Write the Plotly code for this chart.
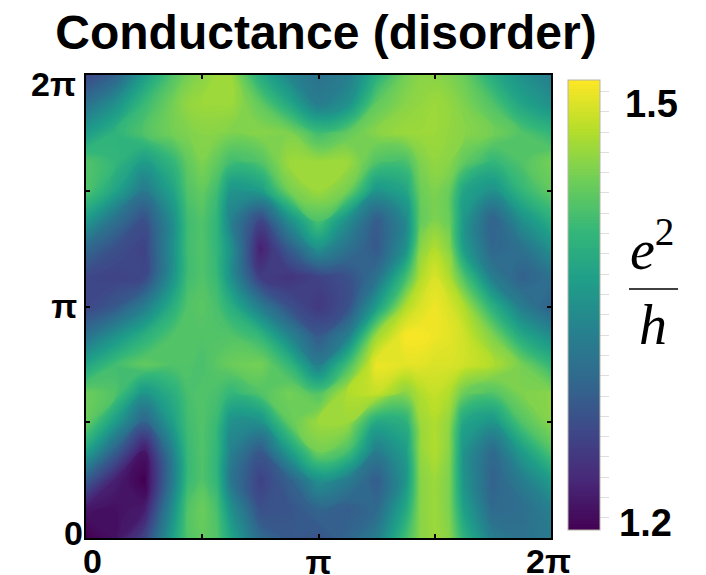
import math
import plotly.graph_objects as go

title = "Conductance (disorder)"
# column and row positions, in 32nds of the full 2pi range
col_32nds = [0, 2, 4, 6, 7, 8, 9, 10, 12, 14, 16, 18, 20, 22, 23, 24, 25, 26, 28, 30, 32]
row_32nds = [32, 30, 28, 26, 24, 22, 20, 18, 16, 14, 12, 10, 8, 6, 4, 2, 0]
# conductance, rows listed from top (y = 2pi) to bottom (y = 0)
rows_top_down = [
 [1.26,1.29,1.365,1.42,1.44,1.45,1.46,1.46,1.385,1.335,1.31,1.325,1.39,1.44,1.45,1.45,1.445,1.435,1.385,1.35,1.325],
 [1.31,1.35,1.405,1.44,1.455,1.46,1.46,1.46,1.43,1.38,1.325,1.35,1.43,1.45,1.455,1.46,1.455,1.445,1.42,1.375,1.35],
 [1.365,1.395,1.42,1.44,1.445,1.45,1.45,1.445,1.45,1.445,1.41,1.43,1.45,1.46,1.46,1.46,1.455,1.45,1.44,1.42,1.40],
 [1.42,1.40,1.365,1.40,1.43,1.445,1.43,1.41,1.42,1.46,1.46,1.46,1.42,1.415,1.445,1.455,1.45,1.43,1.40,1.42,1.44],
 [1.42,1.375,1.32,1.375,1.42,1.43,1.41,1.355,1.365,1.44,1.46,1.44,1.355,1.375,1.435,1.445,1.435,1.375,1.35,1.40,1.43],
 [1.365,1.31,1.27,1.35,1.41,1.42,1.40,1.33,1.26,1.35,1.42,1.35,1.285,1.34,1.43,1.445,1.435,1.36,1.29,1.35,1.39],
 [1.30,1.27,1.255,1.35,1.41,1.42,1.40,1.35,1.22,1.285,1.35,1.31,1.28,1.35,1.45,1.47,1.45,1.365,1.295,1.31,1.35],
 [1.26,1.255,1.26,1.355,1.41,1.42,1.405,1.35,1.25,1.24,1.255,1.27,1.31,1.41,1.47,1.49,1.47,1.42,1.325,1.29,1.31],
 [1.26,1.28,1.325,1.39,1.42,1.425,1.415,1.39,1.325,1.27,1.245,1.27,1.365,1.47,1.49,1.50,1.49,1.47,1.39,1.325,1.29],
 [1.31,1.35,1.39,1.42,1.42,1.42,1.42,1.42,1.40,1.335,1.28,1.325,1.46,1.505,1.505,1.50,1.495,1.485,1.445,1.38,1.345],
 [1.375,1.41,1.43,1.42,1.42,1.415,1.425,1.435,1.44,1.40,1.325,1.41,1.50,1.495,1.495,1.49,1.49,1.485,1.47,1.44,1.40],
 [1.435,1.42,1.355,1.39,1.415,1.42,1.415,1.40,1.42,1.44,1.42,1.47,1.48,1.45,1.47,1.48,1.47,1.435,1.42,1.445,1.45],
 [1.435,1.365,1.29,1.37,1.41,1.42,1.405,1.35,1.35,1.43,1.46,1.46,1.38,1.39,1.46,1.47,1.455,1.375,1.355,1.42,1.45],
 [1.375,1.29,1.21,1.335,1.405,1.42,1.40,1.33,1.28,1.365,1.44,1.415,1.325,1.365,1.455,1.47,1.45,1.355,1.30,1.365,1.42],
 [1.285,1.22,1.19,1.325,1.405,1.42,1.40,1.315,1.255,1.29,1.35,1.325,1.285,1.355,1.45,1.46,1.445,1.355,1.29,1.325,1.365],
 [1.21,1.205,1.215,1.35,1.42,1.435,1.415,1.35,1.27,1.275,1.295,1.285,1.30,1.38,1.45,1.46,1.445,1.37,1.30,1.305,1.33],
 [1.19,1.205,1.255,1.37,1.42,1.43,1.42,1.375,1.30,1.28,1.275,1.295,1.325,1.41,1.45,1.46,1.45,1.395,1.325,1.31,1.32],
]
z_rows = rows_top_down[::-1]
x_grid = [2 * math.pi * c / 32 for c in col_32nds]
y_grid = [2 * math.pi * r / 32 for r in row_32nds[::-1]]

axis_ticks = [0, math.pi / 2, math.pi, 3 * math.pi / 2, 2 * math.pi]
x_labels = ["", "", "π", "", ""]
y_labels = ["", "", "π", "", ""]
cbar_ticks = [1.2 + 0.3 * i / 21 for i in range(22)]
zmin, zmax = 1.1915, 1.508

W, H = 706, 575
L, R, T, B = 86, 551, 75, 538
def px(x): return (x - L) / (R - L)
def py(y): return (B - y) / (B - T)

FONT = "Liberation Sans"
bold = dict(family=FONT, size=34, color="black", weight="bold")
bold_cb = dict(family=FONT, size=38, color="black", weight="bold")
serif = dict(family="Liberation Serif", size=56, color="black")

fig = go.Figure(go.Contour(
    x=x_grid, y=y_grid, z=z_rows, colorscale="Viridis", zmin=zmin, zmax=zmax,
    hoverinfo="skip", autocontour=False,
    contours=dict(coloring="fill", start=zmin, end=zmax, size=0.002, showlines=False),
    line=dict(width=0, smoothing=1.3),
    colorbar=dict(
        x=px(568), xanchor="left", thickness=32, thicknessmode="pixels",
        len=450, lenmode="pixels", y=py(305), yanchor="middle", xpad=0, ypad=0,
        outlinecolor="#b5b5a5", outlinewidth=1,
        tickmode="array", tickvals=cbar_ticks, ticktext=[""] * len(cbar_ticks),
        ticks="outside", ticklen=9, tickwidth=1, tickcolor="#dddddd",
    ),
))

axis_common = dict(
    range=[0, 2 * math.pi], tickmode="array", tickvals=axis_ticks,
    ticks="inside", ticklen=4, tickwidth=2, tickcolor="black",
    showline=True, linecolor="black", linewidth=2, mirror="ticks",
    showgrid=False, zeroline=False, tickfont=bold,
)
fig.update_xaxes(ticktext=x_labels, ticklabelstandoff=-7, **axis_common)
fig.update_yaxes(ticktext=y_labels, **axis_common)

def note(text, x, y, font, **kw):
    fig.add_annotation(text=text, x=px(x), y=py(y), xref="paper", yref="paper",
                       showarrow=False, font=font, xanchor="center", yanchor="middle", **kw)

note("2π", 53, 84, bold)
note("0", 73, 533, bold)
note("0", 92, 561, bold)
note("2π", 548, 561, bold)
note("1.5", 651, 104, bold_cb)
note("1.2", 645, 523, bold_cb)
note("<i>e</i><sup>2</sup>", 652, 246, serif)
note("<i>h</i>", 653, 325, serif)
fig.add_shape(type="line", xref="paper", yref="paper", x0=px(629), x1=px(678),
              y0=py(289), y1=py(289), line=dict(color="black", width=1.5))

fig.update_layout(
    width=W, height=H, margin=dict(l=L, r=W - R, t=T, b=H - B, pad=0, autoexpand=False),
    paper_bgcolor="white", plot_bgcolor="white",
    title=dict(text=title, x=326 / W, xanchor="center", y=1 - 32 / H, yanchor="middle",
               font=dict(family=FONT, size=48, color="black", weight="bold")),
)
fig.write_html("out.html", config=dict(displayModeBar=False),
               post_script="document.body.style.margin='0';document.documentElement.style.overflow='hidden';")
